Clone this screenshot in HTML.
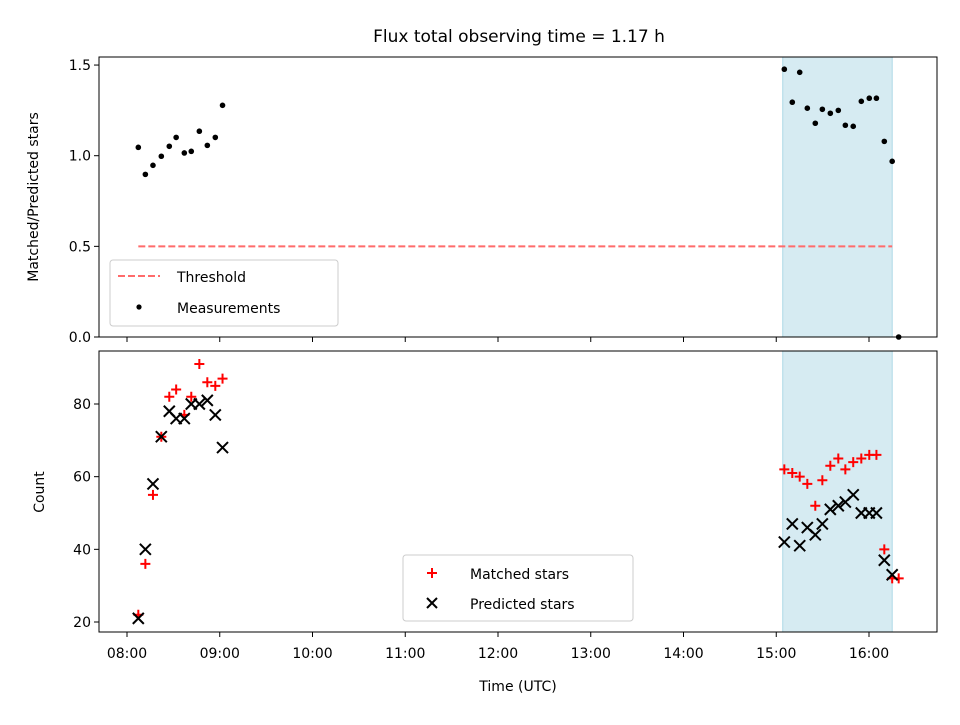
<!DOCTYPE html>
<html><head><meta charset="utf-8"><style>
body{margin:0;background:#fff;font-family:"Liberation Sans","DejaVu Sans",sans-serif}
svg text{font-family:"DejaVu Sans","Liberation Sans",sans-serif;fill:#000}
</style></head><body>
<svg id="c" width="960" height="720" viewBox="0 0 960 720"></svg>
<script>
const times=[8.122,8.198,8.28,8.37,8.456,8.53,8.618,8.693,8.78,8.866,8.952,9.03,
15.087,15.173,15.253,15.335,15.421,15.497,15.583,15.669,15.745,15.83,15.917,16.003,16.08,16.165,16.25,16.32];
const ratio=[1.046,0.897,0.947,0.997,1.052,1.101,1.015,1.024,1.135,1.057,1.101,1.278,
1.477,1.295,1.46,1.262,1.179,1.256,1.234,1.25,1.168,1.162,1.3,1.317,1.317,1.079,0.969,0.0];
const matched=[22,36,55,71,82,84,77,82,91,86,85,87,62,61,60,58,52,59,63,65,62,64,65,66,66,40,32,32];
const predicted=[21,40,58,71,78,76,76,80,80,81,77,68,42,47,41,46,44,47,51,52,53,55,50,50,50,37,33,null];
const xTicks=[8,9,10,11,12,13,14,15,16];
const xTickLabels=["08:00","09:00","10:00","11:00","12:00","13:00","14:00","15:00","16:00"];
const topTicks=[0,0.5,1.0,1.5];
const topTickLabels=["0.0","0.5","1.0","1.5"];
const botTicks=[20,40,60,80];
const threshold=0.5;
const thrRange=[8.122,16.25];
const span=[15.07,16.25];

const NS="http://www.w3.org/2000/svg";
const svg=document.getElementById('c');
function mk(tag,attrs,parent){const e=document.createElementNS(NS,tag);for(const k in attrs)e.setAttribute(k,attrs[k]);(parent||svg).appendChild(e);return e;}
const L=99,R=937;
const X=t=>127+(t-8)*92.75;
const T0=57,T1=337, B0=351,B1=632;
const YT=v=>337-v*181.3;
const YB=v=>622-(v-20)*3.6333;

function txt(x,y,s,anchor,size,name,rot){const e=mk('text',{x:x,y:y,'text-anchor':anchor,'font-size':size||14});if(rot)e.setAttribute('transform',`rotate(-90 ${x} ${y})`);e.textContent=s;

return e;}

txt(519,42,"Flux total observing time = 1.17 h","middle",17,"chart-title");

[[T0,T1,'top'],[B0,B1,'bottom']].forEach(([a,b,n])=>{
 const r=mk('rect',{x:X(span[0]),y:a,width:X(span[1])-X(span[0]),height:b-a,fill:'#add8e6','fill-opacity':0.5,stroke:'#add8e6','stroke-width':1});
 
 
});

const th=mk('line',{x1:X(thrRange[0]),x2:X(thrRange[1]),y1:YT(threshold),y2:YT(threshold),stroke:'#ff6b6b','stroke-width':2,'stroke-dasharray':'7,3'});



times.forEach((t,i)=>{
 const c=mk('circle',{cx:X(t),cy:YT(ratio[i]),r:2.8,fill:'#000'});
 
 
});
times.forEach((t,i)=>{
 if(matched[i]!=null){const x=X(t),y=YB(matched[i]);
  const p=mk('path',{d:`M${x-5},${y}H${x+5}M${x},${y-5}V${y+5}`,stroke:'#f00','stroke-width':2});
  
  }
});
times.forEach((t,i)=>{
 if(predicted[i]!=null){const x=X(t),y=YB(predicted[i]);
  const p=mk('path',{d:`M${x-5.5},${y-5.5}L${x+5.5},${y+5.5}M${x-5.5},${y+5.5}L${x+5.5},${y-5.5}`,stroke:'#000','stroke-width':2});
  
  }
});

[[T0,T1,'top'],[B0,B1,'bottom']].forEach(([a,b,n])=>{
 const r=mk('rect',{x:L,y:a,width:R-L,height:b-a,fill:'none',stroke:'#000','stroke-width':1});
 
 
 xTicks.forEach((t,i)=>{mk('line',{x1:X(t),x2:X(t),y1:b,y2:b+5,stroke:'#000'});});
});
xTicks.forEach((t,i)=>{txt(X(t),658,xTickLabels[i],"middle",14,"x-tick-label");});
topTicks.forEach((v,i)=>{mk('line',{x1:L-5,x2:L,y1:YT(v),y2:YT(v),stroke:'#000'});txt(L-8,YT(v)+5,topTickLabels[i],"end",14,"top-y-tick-label");});
botTicks.forEach((v,i)=>{mk('line',{x1:L-5,x2:L,y1:YB(v),y2:YB(v),stroke:'#000'});txt(L-8,YB(v)+5,String(v),"end",14,"bottom-y-tick-label");});
txt(518,691,"Time (UTC)","middle",14,"x-axis-title");
txt(38,197,"Matched/Predicted stars","middle",14,"top-y-axis-title",true);
txt(44,492,"Count","middle",14,"bottom-y-axis-title",true);

let g=mk('rect',{x:110,y:260,width:228,height:66,rx:3,fill:'#fff','fill-opacity':0.8,stroke:'#ccc'});


mk('line',{x1:118,x2:160,y1:276,y2:276,stroke:'#ff6b6b','stroke-width':2,'stroke-dasharray':'7,3'});
txt(177,282,"Threshold","start",14,"legend-entry-threshold");
mk('circle',{cx:139,cy:307,r:2.6,fill:'#000'});
txt(177,313,"Measurements","start",14,"legend-entry-measurements");

g=mk('rect',{x:403,y:555,width:230,height:66,rx:3,fill:'#fff','fill-opacity':0.8,stroke:'#ccc'});


mk('path',{d:'M427,573H437M432,568V578',stroke:'#f00','stroke-width':2});
txt(470,579,"Matched stars","start",14,"legend-entry-matched");
mk('path',{d:'M427,598L437,608M427,608L437,598',stroke:'#000','stroke-width':2});
txt(470,609,"Predicted stars","start",14,"legend-entry-predicted");
</script>
</body></html>
